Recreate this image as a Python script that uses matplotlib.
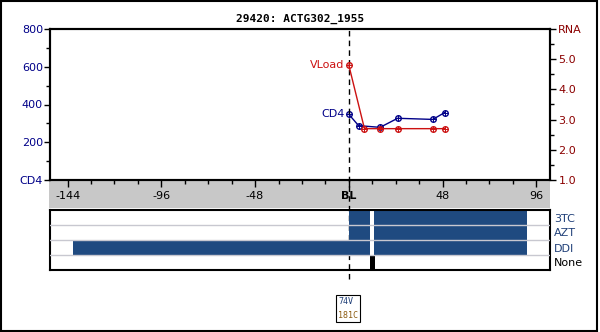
import numpy as np
import matplotlib
matplotlib.use("Agg")
import matplotlib.pyplot as plt
from matplotlib.patches import Rectangle

# data (weeks from baseline)
cd4_wk = [0, 5, 16, 25, 43, 49]
cd4_val = [348, 288, 279, 327, 321, 357]
vl_wk = [0, 8, 16, 25, 43, 49]
vl_val = [4.8, 2.7, 2.7, 2.7, 2.7, 2.7]

xticks = [-144, -96, -48, 0, 48, 96]
xtick_labels = ["-144", "-96", "-48", "BL", "48", "96"]

drugs = ["None", "DDI", "AZT", "3TC"]
# (drug, start, end)
regimens = [("3TC", 0, 11), ("3TC", 13, 91),
            ("AZT", 0, 11), ("AZT", 13, 91),
            ("DDI", -141, 11), ("DDI", 13, 91),
            ("None", 11, 13.5)]

mutations = ["74V", "181C"]
mut_colors = ["#1f3f78", "#8b5a10"]

W, H = 600, 332
fig = plt.figure(figsize=(W / 100, H / 100), dpi=100)
plt.rcParams['font.family'] = 'DejaVu Sans'

def box(x0, y0, x1, y1):
    # pixel box -> figure fraction [left, bottom, width, height]
    return [x0 / W, 1 - y1 / H, (x1 - x0) / W, (y1 - y0) / H]

navy = "#000088"
red = "#cc1111"
dred = "#8b0000"
barc = "#1f4a80"

# gray band behind x tick labels
fig.add_artist(Rectangle((49 / W, 1 - 208 / H), 501 / W, 28 / H,
                         transform=fig.transFigure, facecolor="#c8c8c8",
                         edgecolor="none", zorder=-1))

ax = fig.add_axes(box(50, 29, 550, 180))
ax.set_xlim(-153, 103)
ax.set_ylim(0, 800)
ax.plot(cd4_wk, cd4_val, color=navy, lw=1, marker="o", ms=4, mfc="none", mew=1)
ax.plot(cd4_wk, cd4_val, color=navy, lw=0, marker="+", ms=4, mew=0.7)
ax.annotate("CD4", (cd4_wk[0], cd4_val[0]), xytext=(-3, 0), textcoords="offset points",
            ha="right", va="center", color=navy, fontsize=8)
ax.set_yticks([0, 200, 400, 600, 800])
ax.set_yticklabels(["CD4", "200", "400", "600", "800"], color=navy, fontsize=8)
ax.set_yticks([100, 300, 500, 700], minor=True)
ax.set_xticks(xticks)
ax.set_xticklabels(xtick_labels, fontsize=8)
ax.get_xticklabels()[3].set_fontweight("bold")
ax.set_xticks(np.arange(-144, 103, 12), minor=True)
ax.tick_params(axis="x", which="major", length=5, width=1, pad=3)
ax.tick_params(axis="x", which="minor", length=3, width=1)
ax.tick_params(axis="y", which="major", length=4, width=1, pad=1)
ax.tick_params(axis="y", which="minor", length=3, width=1)
for s in ax.spines.values():
    s.set_linewidth(1.5)
ax.axvline(0, ymin=-0.656, ymax=1, color="black", lw=1, ls=(0, (4, 3)), clip_on=False)
ax.set_title("29420: ACTG302_1955", fontsize=8, fontweight="bold",
             family="DejaVu Sans Mono", pad=5)

ax2 = ax.twinx()
ax2.set_ylim(1, 6)
ax2.plot(vl_wk, vl_val, color=red, lw=1, marker="o", ms=4, mfc="none", mew=1)
ax2.plot(vl_wk, vl_val, color=red, lw=0, marker="+", ms=4, mew=0.7)
ax2.annotate("VLoad", (vl_wk[0], vl_val[0]), xytext=(-3, 0), textcoords="offset points",
             ha="right", va="center", color=red, fontsize=8)
ax2.set_yticks([1, 2, 3, 4, 5, 6])
ax2.set_yticklabels(["1.0", "2.0", "3.0", "4.0", "5.0", "RNA"], color=dred, fontsize=8)
ax2.set_yticks([1.5, 2.5, 3.5, 4.5, 5.5], minor=True)
ax2.tick_params(axis="y", which="major", length=4, width=1, pad=2)
ax2.tick_params(axis="y", which="minor", length=3, width=1)
for s in ax2.spines.values():
    s.set_linewidth(1.5)

# treatment panel
ax3 = fig.add_axes(box(50, 210, 550, 270))
ax3.patch.set_alpha(0)
ax3.set_xlim(-153, 103)
ax3.set_ylim(-0.5, 3.5)
for d, a, b in regimens:
    ax3.barh(drugs.index(d), b - a, left=a, height=1.0,
             color="black" if d == "None" else barc, zorder=2)
for yy in [0.5, 1.5, 2.5]:
    ax3.axhline(yy, color="#c8c8d0", lw=1, zorder=3)
ax3.set_xticks([])
ax3.yaxis.tick_right()
ax3.set_yticks(range(len(drugs)))
ax3.set_yticklabels(drugs, fontsize=8)
for lab in ax3.get_yticklabels():
    lab.set_color("black" if lab.get_text() == "None" else "#1f3f78")
ax3.tick_params(axis="y", length=0, pad=3)
for s in ax3.spines.values():
    s.set_linewidth(1.5)

# mutation box
fig.add_artist(Rectangle((336 / W, 1 - 322 / H), 24 / W, 27 / H,
                         transform=fig.transFigure, facecolor="white",
                         edgecolor="black", lw=0.8))
for i, (m, c) in enumerate(zip(mutations, mut_colors)):
    fig.text(338 / W, 1 - (302 + 13 * i) / H, m, color=c, fontsize=6,
             family="DejaVu Sans Mono", va="center", ha="left")

# outer frame
fig.add_artist(Rectangle((1 / W, 1 / H), 596 / W, 330 / H, transform=fig.transFigure,
                         facecolor="none", edgecolor="black", lw=1.5))

fig.savefig("out.png", dpi=100)
